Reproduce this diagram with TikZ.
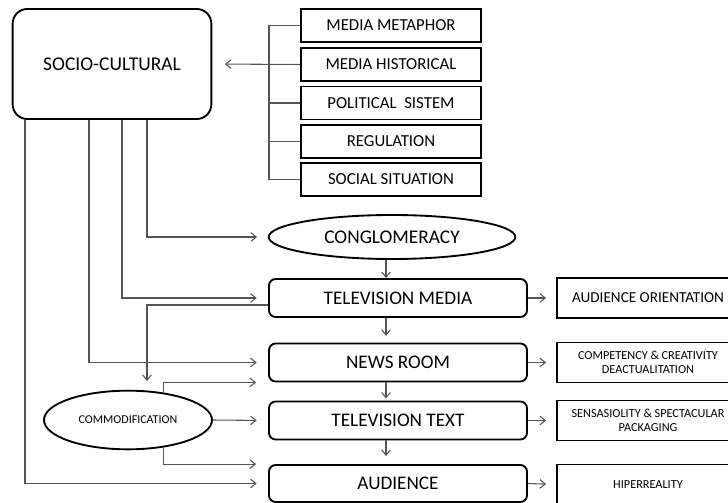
\documentclass[tikz,border=0pt]{standalone}
\usepackage{fontspec}
\setmainfont{Carlito}
\usetikzlibrary{shapes.geometric,arrows.meta,calc}

\definecolor{linegray}{RGB}{85,85,85}

\tikzset{every picture/.style={line width=0.75pt}}
\tikzset{
  conn/.style={draw=linegray, line width=0.8pt, -{Straight Barb[length=4pt,width=6.5pt]}},
  plainconn/.style={draw=linegray, line width=0.8pt},
  sociobox/.style={draw, line width=1.4pt, rounded corners=11pt, inner sep=0pt,
    minimum width=149pt, minimum height=82.5pt, font=\fontsize{14.6}{16}\selectfont},
  factorbox/.style={draw, line width=1.4pt, inner sep=0pt,
    minimum width=135pt, minimum height=24.75pt, font=\fontsize{12.6}{14}\selectfont},
  stagebox/.style={draw, line width=1.4pt, rounded corners=5pt, inner sep=0pt,
    minimum width=193.5pt, minimum height=28.5pt, font=\fontsize{14.4}{16}\selectfont},
  effectbox/.style={draw, line width=1.4pt, inner sep=0pt, align=center,
    minimum width=136.5pt, minimum height=30pt, font=\fontsize{9.2}{11}\selectfont},
  oval/.style={draw, ellipse, line width=1.4pt, inner sep=0pt},
}

\begin{document}
\begin{tikzpicture}[x=0.75pt,y=0.75pt,yscale=-1]
	\useasboundingbox (0,0) rectangle (728,503);

	% Draw the socio-cultural box and its factors
	\node [sociobox] (socio) at (112,64) {SOCIO-CULTURAL};
	\node [factorbox] (metaphor) at (391,25.5) {MEDIA METAPHOR};
	\node [factorbox] (historical) at (391,64.5) {MEDIA HISTORICAL};
	\node [factorbox] (political) at (391,103) {POLITICAL\ \ SISTEM};
	\node [factorbox] (regulation) at (391,141.5) {REGULATION};
	\node [factorbox] (social) at (391,179.5) {SOCIAL SITUATION};

	% Draw the middle column
	\node [oval, minimum width=185pt, minimum height=33pt, font=\fontsize{14.5}{16}\selectfont] (cong) at (392,237) {CONGLOMERACY};
	\node [stagebox] (tvmedia) at (398,298) {TELEVISION MEDIA};
	\node [stagebox] (newsroom) at (398,362.5) {NEWS ROOM};
	\node [stagebox] (tvtext) at (398,420.5) {TELEVISION TEXT};
	\node [stagebox, minimum height=27.75pt] (audience) at (398,483.5) {AUDIENCE};
	\node [oval, minimum width=126pt, minimum height=44pt, font=\fontsize{9}{10}\selectfont] (commod) at (128,420) {COMMODIFICATION};

	% Draw the right column
	\node [effectbox, font=\fontsize{11.4}{13}\selectfont] (orient) at (648,298) {AUDIENCE ORIENTATION};
	\node [effectbox] (compet) at (648,362.5) {COMPETENCY \& CREATIVITY\\DEACTUALITATION};
	\node [effectbox] (sensa) at (648,420.5) {SENSASIOLITY \& SPECTACULAR\\PACKAGING};
	\node [effectbox] (hiper) at (648,484.5) {HIPERREALITY};

	% Draw the bracket of factors
	\coordinate (brk) at (269,0);
	\draw [plainconn] (brk |- metaphor.west) -- (brk |- social.west);
	\draw [plainconn] (brk |- metaphor.west) -- (metaphor.west);
	\draw [plainconn] (brk |- political.west) -- (political.west);
	\draw [plainconn] (brk |- regulation.west) -- (regulation.west);
	\draw [plainconn] (brk |- social.west) -- (social.west);
	\draw [conn, shorten >=9.5pt] (historical.west) -- (socio.east);

	% Draw the lines out of socio-cultural
	\draw [conn, shorten >=8pt] ($(socio.south)+(35,0)$) |- (cong.west);
	\draw [conn, shorten >=8.5pt] ($(socio.south)+(10,0)$) |- (tvmedia.west);
	\draw [conn, shorten >=8.5pt] ($(socio.south)+(-23,0)$) |- (newsroom.west);
	\draw [conn, shorten >=8.5pt] ($(socio.south)+(-87,0)$) |- (audience.west);

	% Draw the lines of commodification
	\draw [conn, shorten >=6.5pt] ($(tvmedia.west)+(0,7)$) -| ($(commod.north)+(19,0)$);
	\draw [conn, shorten >=9pt] (commod.38) |- (newsroom.south west);
	\draw [conn, shorten >=8.5pt] (commod.east) -- (tvtext.west);
	\draw [conn, shorten >=9pt] (commod.-38) |- (audience.north west);

	% Draw the down arrows
	\coordinate (axis) at (386,0);
	\draw [conn] (cong.south -| axis) -- (tvmedia.north -| axis);
	\draw [conn, shorten >=5pt] (tvmedia.south -| axis) -- (newsroom.north -| axis);
	\draw [conn, shorten >=1.5pt] (newsroom.south -| axis) -- (tvtext.north -| axis);
	\draw [conn, shorten >=6pt] (tvtext.south -| axis) -- (audience.north -| axis);

	% Draw the right arrows
	\draw [conn, shorten >=7.5pt] (tvmedia.east) -- (orient.west);
	\draw [conn, shorten >=7.5pt] (newsroom.east) -- (compet.west);
	\draw [conn, shorten >=7.5pt] (tvtext.east) -- (sensa.west);
	\draw [conn, shorten >=7.5pt] (audience.east) -- (hiper.west);
\end{tikzpicture}
\end{document}
